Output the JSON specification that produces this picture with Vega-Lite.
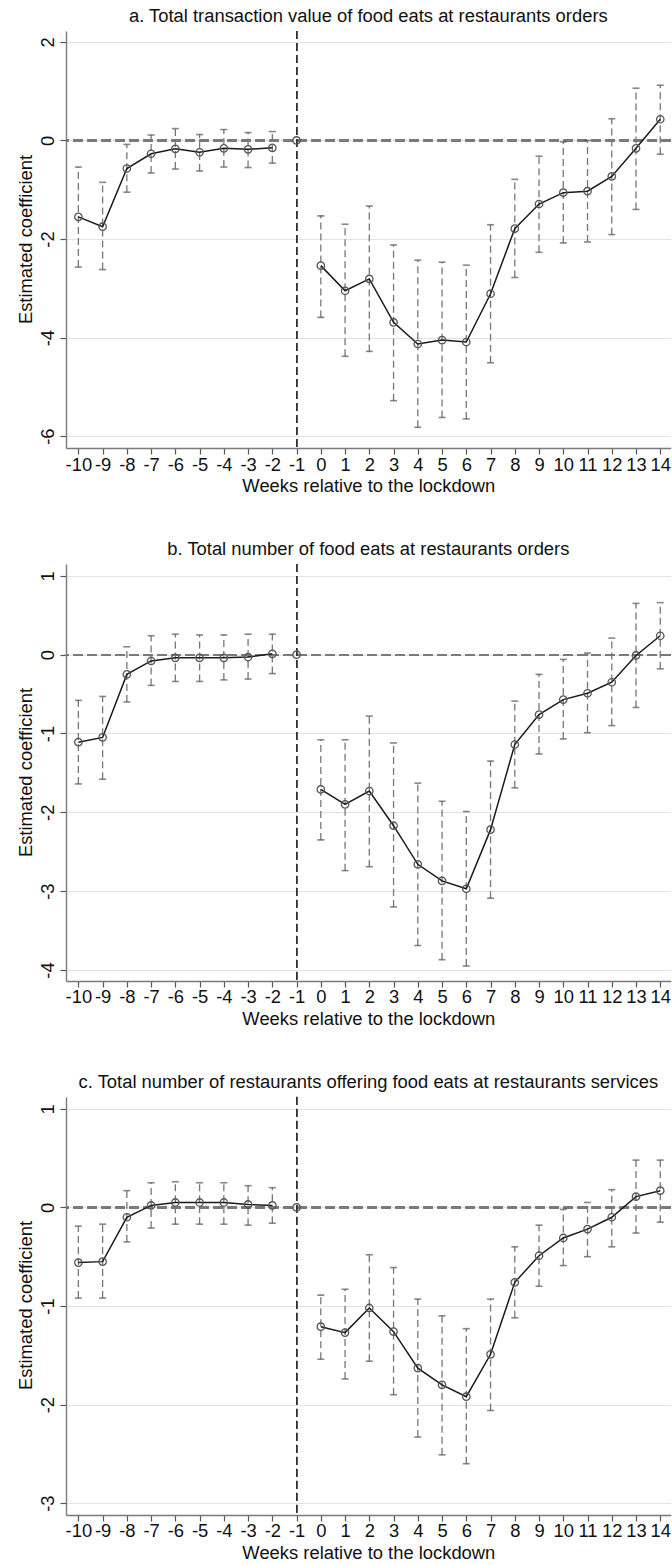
{
  "$schema": "https://vega.github.io/schema/vega-lite/v6.json",
  "background": "white",
  "padding": {"left": 17, "top": 7, "right": 0, "bottom": 5},
  "spacing": 116,
  "bounds": "flush",
  "datasets": {
    "value": [
      {"week": -10, "coef": -1.55, "lo": -2.57, "hi": -0.54, "seg": "pre"},
      {"week": -9, "coef": -1.75, "lo": -2.62, "hi": -0.85, "seg": "pre"},
      {"week": -8, "coef": -0.57, "lo": -1.05, "hi": -0.08, "seg": "pre"},
      {"week": -7, "coef": -0.27, "lo": -0.66, "hi": 0.11, "seg": "pre"},
      {"week": -6, "coef": -0.17, "lo": -0.58, "hi": 0.24, "seg": "pre"},
      {"week": -5, "coef": -0.24, "lo": -0.62, "hi": 0.12, "seg": "pre"},
      {"week": -4, "coef": -0.16, "lo": -0.54, "hi": 0.22, "seg": "pre"},
      {"week": -3, "coef": -0.18, "lo": -0.55, "hi": 0.16, "seg": "pre"},
      {"week": -2, "coef": -0.15, "lo": -0.46, "hi": 0.18, "seg": "pre"},
      {"week": -1, "coef": 0, "seg": "ref"},
      {"week": 0, "coef": -2.54, "lo": -3.59, "hi": -1.53, "seg": "post"},
      {"week": 1, "coef": -3.05, "lo": -4.38, "hi": -1.70, "seg": "post"},
      {"week": 2, "coef": -2.81, "lo": -4.28, "hi": -1.33, "seg": "post"},
      {"week": 3, "coef": -3.69, "lo": -5.28, "hi": -2.12, "seg": "post"},
      {"week": 4, "coef": -4.13, "lo": -5.82, "hi": -2.43, "seg": "post"},
      {"week": 5, "coef": -4.05, "lo": -5.62, "hi": -2.47, "seg": "post"},
      {"week": 6, "coef": -4.09, "lo": -5.65, "hi": -2.53, "seg": "post"},
      {"week": 7, "coef": -3.11, "lo": -4.51, "hi": -1.71, "seg": "post"},
      {"week": 8, "coef": -1.79, "lo": -2.78, "hi": -0.79, "seg": "post"},
      {"week": 9, "coef": -1.29, "lo": -2.27, "hi": -0.32, "seg": "post"},
      {"week": 10, "coef": -1.06, "lo": -2.08, "hi": -0.03, "seg": "post"},
      {"week": 11, "coef": -1.03, "lo": -2.06, "hi": 0.00, "seg": "post"},
      {"week": 12, "coef": -0.73, "lo": -1.91, "hi": 0.44, "seg": "post"},
      {"week": 13, "coef": -0.16, "lo": -1.40, "hi": 1.06, "seg": "post"},
      {"week": 14, "coef": 0.43, "lo": -0.28, "hi": 1.12, "seg": "post"}
    ],
    "orders": [
      {"week": -10, "coef": -1.11, "lo": -1.64, "hi": -0.58, "seg": "pre"},
      {"week": -9, "coef": -1.05, "lo": -1.58, "hi": -0.53, "seg": "pre"},
      {"week": -8, "coef": -0.25, "lo": -0.60, "hi": 0.10, "seg": "pre"},
      {"week": -7, "coef": -0.08, "lo": -0.39, "hi": 0.24, "seg": "pre"},
      {"week": -6, "coef": -0.04, "lo": -0.34, "hi": 0.26, "seg": "pre"},
      {"week": -5, "coef": -0.04, "lo": -0.34, "hi": 0.25, "seg": "pre"},
      {"week": -4, "coef": -0.04, "lo": -0.32, "hi": 0.25, "seg": "pre"},
      {"week": -3, "coef": -0.03, "lo": -0.31, "hi": 0.26, "seg": "pre"},
      {"week": -2, "coef": 0.01, "lo": -0.24, "hi": 0.26, "seg": "pre"},
      {"week": -1, "coef": 0, "seg": "ref"},
      {"week": 0, "coef": -1.71, "lo": -2.35, "hi": -1.08, "seg": "post"},
      {"week": 1, "coef": -1.90, "lo": -2.74, "hi": -1.08, "seg": "post"},
      {"week": 2, "coef": -1.73, "lo": -2.69, "hi": -0.78, "seg": "post"},
      {"week": 3, "coef": -2.17, "lo": -3.20, "hi": -1.12, "seg": "post"},
      {"week": 4, "coef": -2.66, "lo": -3.69, "hi": -1.63, "seg": "post"},
      {"week": 5, "coef": -2.87, "lo": -3.87, "hi": -1.86, "seg": "post"},
      {"week": 6, "coef": -2.97, "lo": -3.95, "hi": -1.99, "seg": "post"},
      {"week": 7, "coef": -2.22, "lo": -3.09, "hi": -1.35, "seg": "post"},
      {"week": 8, "coef": -1.14, "lo": -1.69, "hi": -0.59, "seg": "post"},
      {"week": 9, "coef": -0.76, "lo": -1.26, "hi": -0.25, "seg": "post"},
      {"week": 10, "coef": -0.57, "lo": -1.07, "hi": -0.06, "seg": "post"},
      {"week": 11, "coef": -0.49, "lo": -0.99, "hi": 0.02, "seg": "post"},
      {"week": 12, "coef": -0.35, "lo": -0.90, "hi": 0.21, "seg": "post"},
      {"week": 13, "coef": -0.01, "lo": -0.67, "hi": 0.65, "seg": "post"},
      {"week": 14, "coef": 0.24, "lo": -0.18, "hi": 0.66, "seg": "post"}
    ],
    "restaurants": [
      {"week": -10, "coef": -0.56, "lo": -0.92, "hi": -0.19, "seg": "pre"},
      {"week": -9, "coef": -0.55, "lo": -0.92, "hi": -0.17, "seg": "pre"},
      {"week": -8, "coef": -0.10, "lo": -0.35, "hi": 0.17, "seg": "pre"},
      {"week": -7, "coef": 0.02, "lo": -0.21, "hi": 0.25, "seg": "pre"},
      {"week": -6, "coef": 0.05, "lo": -0.17, "hi": 0.26, "seg": "pre"},
      {"week": -5, "coef": 0.05, "lo": -0.17, "hi": 0.25, "seg": "pre"},
      {"week": -4, "coef": 0.05, "lo": -0.17, "hi": 0.25, "seg": "pre"},
      {"week": -3, "coef": 0.03, "lo": -0.18, "hi": 0.22, "seg": "pre"},
      {"week": -2, "coef": 0.02, "lo": -0.16, "hi": 0.20, "seg": "pre"},
      {"week": -1, "coef": 0, "seg": "ref"},
      {"week": 0, "coef": -1.21, "lo": -1.54, "hi": -0.89, "seg": "post"},
      {"week": 1, "coef": -1.27, "lo": -1.74, "hi": -0.83, "seg": "post"},
      {"week": 2, "coef": -1.02, "lo": -1.56, "hi": -0.48, "seg": "post"},
      {"week": 3, "coef": -1.26, "lo": -1.90, "hi": -0.61, "seg": "post"},
      {"week": 4, "coef": -1.63, "lo": -2.33, "hi": -0.93, "seg": "post"},
      {"week": 5, "coef": -1.80, "lo": -2.51, "hi": -1.10, "seg": "post"},
      {"week": 6, "coef": -1.92, "lo": -2.60, "hi": -1.23, "seg": "post"},
      {"week": 7, "coef": -1.49, "lo": -2.06, "hi": -0.93, "seg": "post"},
      {"week": 8, "coef": -0.76, "lo": -1.12, "hi": -0.40, "seg": "post"},
      {"week": 9, "coef": -0.49, "lo": -0.80, "hi": -0.18, "seg": "post"},
      {"week": 10, "coef": -0.31, "lo": -0.59, "hi": -0.02, "seg": "post"},
      {"week": 11, "coef": -0.22, "lo": -0.50, "hi": 0.05, "seg": "post"},
      {"week": 12, "coef": -0.10, "lo": -0.40, "hi": 0.18, "seg": "post"},
      {"week": 13, "coef": 0.11, "lo": -0.26, "hi": 0.48, "seg": "post"},
      {"week": 14, "coef": 0.17, "lo": -0.15, "hi": 0.48, "seg": "post"}
    ]
  },
  "vconcat": [
    {
      "width": 604.7,
      "height": 417,
      "data": {"name": "value"},
      "title": {"text": "a. Total transaction value of food eats at restaurants orders", "frame": "group", "anchor": "middle", "fontSize": 18.4, "fontWeight": "normal", "font": "Liberation Sans", "color": "#111", "offset": 5},
      "encoding": {
        "x": {"field": "week", "type": "quantitative", "title": "Weeks relative to the lockdown", "scale": {"domain": [-10.51, 14.43], "nice": false, "zero": false}, "axis": {"values": [-10, -9, -8, -7, -6, -5, -4, -3, -2, -1, 0, 1, 2, 3, 4, 5, 6, 7, 8, 9, 10, 11, 12, 13, 14]}}
      },
      "layer": [
        {"mark": {"type": "rule", "color": "#7a7a7a", "strokeWidth": 1.5, "strokeDash": [9, 5]}, "encoding": {"x": null, "y": {"datum": 0, "type": "quantitative", "scale": {"domain": [-6.24, 2.22], "nice": false, "zero": false}, "axis": {"values": [-6, -4, -2, 0, 2], "title": "Estimated coefficient"}}}},
        {"mark": {"type": "rule", "color": "#333", "strokeWidth": 1, "strokeDash": [8, 4]}, "encoding": {"x": {"datum": -1, "type": "quantitative"}}},
        {"transform": [{"filter": "isValid(datum.lo)"}], "mark": {"type": "rule", "color": "#777", "strokeWidth": 1.3, "strokeDash": [7, 4]}, "encoding": {"y": {"field": "lo", "type": "quantitative"}, "y2": {"field": "hi"}}},
        {"transform": [{"filter": "isValid(datum.lo)"}], "mark": {"type": "tick", "orient": "horizontal", "size": 7, "thickness": 1.6, "color": "#555"}, "encoding": {"y": {"field": "lo", "type": "quantitative"}}},
        {"transform": [{"filter": "isValid(datum.hi)"}], "mark": {"type": "tick", "orient": "horizontal", "size": 7, "thickness": 1.6, "color": "#555"}, "encoding": {"y": {"field": "hi", "type": "quantitative"}}},
        {"transform": [{"filter": "datum.seg !== 'ref'"}], "mark": {"type": "line", "color": "#1a1a1a", "strokeWidth": 1.5}, "encoding": {"y": {"field": "coef", "type": "quantitative"}, "detail": {"field": "seg"}}},
        {"mark": {"type": "point", "shape": "circle", "filled": false, "size": 55, "stroke": "#555", "strokeWidth": 1.3, "opacity": 1}, "encoding": {"y": {"field": "coef", "type": "quantitative"}}}
      ]
    },
    {
      "width": 604.7,
      "height": 417,
      "data": {"name": "orders"},
      "title": {"text": "b. Total number of food eats at restaurants orders", "frame": "group", "anchor": "middle", "fontSize": 18.4, "fontWeight": "normal", "font": "Liberation Sans", "color": "#111", "offset": 5},
      "encoding": {
        "x": {"field": "week", "type": "quantitative", "title": "Weeks relative to the lockdown", "scale": {"domain": [-10.51, 14.43], "nice": false, "zero": false}, "axis": {"values": [-10, -9, -8, -7, -6, -5, -4, -3, -2, -1, 0, 1, 2, 3, 4, 5, 6, 7, 8, 9, 10, 11, 12, 13, 14]}}
      },
      "layer": [
        {"mark": {"type": "rule", "color": "#7a7a7a", "strokeWidth": 1.5, "strokeDash": [9, 5]}, "encoding": {"x": null, "y": {"datum": 0, "type": "quantitative", "scale": {"domain": [-4.14, 1.15], "nice": false, "zero": false}, "axis": {"values": [-4, -3, -2, -1, 0, 1], "title": "Estimated coefficient"}}}},
        {"mark": {"type": "rule", "color": "#333", "strokeWidth": 1, "strokeDash": [8, 4]}, "encoding": {"x": {"datum": -1, "type": "quantitative"}}},
        {"transform": [{"filter": "isValid(datum.lo)"}], "mark": {"type": "rule", "color": "#777", "strokeWidth": 1.3, "strokeDash": [7, 4]}, "encoding": {"y": {"field": "lo", "type": "quantitative"}, "y2": {"field": "hi"}}},
        {"transform": [{"filter": "isValid(datum.lo)"}], "mark": {"type": "tick", "orient": "horizontal", "size": 7, "thickness": 1.6, "color": "#555"}, "encoding": {"y": {"field": "lo", "type": "quantitative"}}},
        {"transform": [{"filter": "isValid(datum.hi)"}], "mark": {"type": "tick", "orient": "horizontal", "size": 7, "thickness": 1.6, "color": "#555"}, "encoding": {"y": {"field": "hi", "type": "quantitative"}}},
        {"transform": [{"filter": "datum.seg !== 'ref'"}], "mark": {"type": "line", "color": "#1a1a1a", "strokeWidth": 1.5}, "encoding": {"y": {"field": "coef", "type": "quantitative"}, "detail": {"field": "seg"}}},
        {"mark": {"type": "point", "shape": "circle", "filled": false, "size": 55, "stroke": "#555", "strokeWidth": 1.3, "opacity": 1}, "encoding": {"y": {"field": "coef", "type": "quantitative"}}}
      ]
    },
    {
      "width": 604.7,
      "height": 418,
      "data": {"name": "restaurants"},
      "title": {"text": "c. Total number of restaurants offering food eats at restaurants services", "frame": "group", "anchor": "middle", "fontSize": 18.4, "fontWeight": "normal", "font": "Liberation Sans", "color": "#111", "offset": 5},
      "encoding": {
        "x": {"field": "week", "type": "quantitative", "title": "Weeks relative to the lockdown", "scale": {"domain": [-10.51, 14.43], "nice": false, "zero": false}, "axis": {"values": [-10, -9, -8, -7, -6, -5, -4, -3, -2, -1, 0, 1, 2, 3, 4, 5, 6, 7, 8, 9, 10, 11, 12, 13, 14]}}
      },
      "layer": [
        {"mark": {"type": "rule", "color": "#7a7a7a", "strokeWidth": 1.5, "strokeDash": [9, 5]}, "encoding": {"x": null, "y": {"datum": 0, "type": "quantitative", "scale": {"domain": [-3.12, 1.12], "nice": false, "zero": false}, "axis": {"values": [-3, -2, -1, 0, 1], "title": "Estimated coefficient"}}}},
        {"mark": {"type": "rule", "color": "#333", "strokeWidth": 1, "strokeDash": [8, 4]}, "encoding": {"x": {"datum": -1, "type": "quantitative"}}},
        {"transform": [{"filter": "isValid(datum.lo)"}], "mark": {"type": "rule", "color": "#777", "strokeWidth": 1.3, "strokeDash": [7, 4]}, "encoding": {"y": {"field": "lo", "type": "quantitative"}, "y2": {"field": "hi"}}},
        {"transform": [{"filter": "isValid(datum.lo)"}], "mark": {"type": "tick", "orient": "horizontal", "size": 7, "thickness": 1.6, "color": "#555"}, "encoding": {"y": {"field": "lo", "type": "quantitative"}}},
        {"transform": [{"filter": "isValid(datum.hi)"}], "mark": {"type": "tick", "orient": "horizontal", "size": 7, "thickness": 1.6, "color": "#555"}, "encoding": {"y": {"field": "hi", "type": "quantitative"}}},
        {"transform": [{"filter": "datum.seg !== 'ref'"}], "mark": {"type": "line", "color": "#1a1a1a", "strokeWidth": 1.5}, "encoding": {"y": {"field": "coef", "type": "quantitative"}, "detail": {"field": "seg"}}},
        {"mark": {"type": "point", "shape": "circle", "filled": false, "size": 55, "stroke": "#555", "strokeWidth": 1.3, "opacity": 1}, "encoding": {"y": {"field": "coef", "type": "quantitative"}}}
      ]
    }
  ],
  "config": {
    "view": {"stroke": null},
    "font": "Liberation Sans",
    "axis": {
      "labelFont": "Liberation Sans",
      "titleFont": "Liberation Sans",
      "labelFontSize": 18.4,
      "titleFontSize": 18.4,
      "titleFontWeight": "normal",
      "labelColor": "#111",
      "titleColor": "#111",
      "labelExpr": "'' + datum.value",
      "domainColor": "#7a7a7a",
      "domainWidth": 1.4,
      "tickColor": "#555",
      "tickWidth": 1.2,
      "gridColor": "#e2e2e2",
      "gridWidth": 1
    },
    "axisX": {
      "grid": false,
      "tickSize": 6,
      "labelPadding": 1,
      "labelOverlap": false,
      "labelFlush": false,
      "titlePadding": 3
    },
    "axisY": {
      "grid": true,
      "tickSize": 6,
      "labelAngle": 270,
      "labelAlign": "center",
      "labelBaseline": "alphabetic",
      "labelPadding": 6,
      "labelOverlap": false,
      "titleAngle": 270,
      "titleAlign": "center",
      "titleBaseline": "middle",
      "titleX": -40,
      "titleY": 208
    }
  }
}
